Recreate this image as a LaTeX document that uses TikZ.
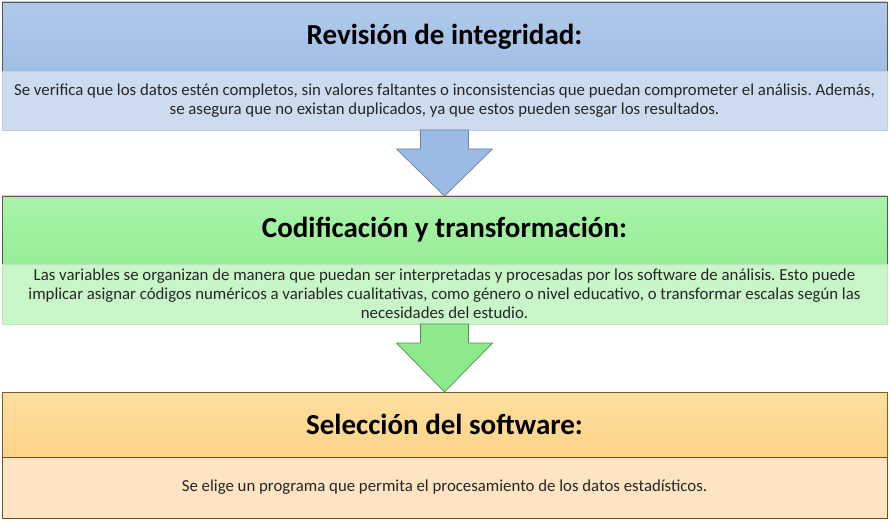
\documentclass[tikz,border=0pt]{standalone}
\usepackage{fontspec}
\setmainfont{Carlito}
\frenchspacing
\usetikzlibrary{positioning, calc}

\definecolor{azulTop}{RGB}{176,201,235}
\definecolor{azulBot}{RGB}{160,191,230}
\definecolor{azulBanda}{RGB}{205,219,238}
\definecolor{azulFlecha}{RGB}{155,186,228}
\definecolor{verdeTop}{RGB}{168,243,168}
\definecolor{verdeBot}{RGB}{152,237,152}
\definecolor{verdeBanda}{RGB}{200,246,200}
\definecolor{verdeFlecha}{RGB}{140,233,140}
\definecolor{naranjaTop}{RGB}{254,223,158}
\definecolor{naranjaBot}{RGB}{252,212,137}
\definecolor{naranjaBanda}{RGB}{254,228,194}

\begin{document}
\begin{tikzpicture}[
        x=1pt, y=1pt,
        titulo/.style={draw=#1, line width=0.9pt, minimum width=885pt, inner sep=0pt, outer sep=0pt,
            font=\fontsize{29}{33}\selectfont\bfseries},
        banda/.style={draw=#1, line width=0.5pt, minimum width=885pt, inner sep=0pt, outer sep=0pt,
            align=center, text=black!85, font=\fontsize{16.8}{19}\selectfont},
        flecha/.style={draw=#1, line width=0.7pt, line join=miter}
    ]
        \useasboundingbox (0,0) rectangle (890,-521);

        % Paso 1: revision de integridad
        \node[titulo=black!65, top color=azulTop, bottom color=azulBot, minimum height=69pt] (rev) at (444.5,-36.5) {Revisión de integridad:};
        \node[banda=azulBanda!85!gray, fill=azulBanda, minimum height=59pt, below=0pt of rev] (revTxt)
            {Se verifica que los datos estén completos, sin valores faltantes o inconsistencias que puedan comprometer el análisis. Además,\\
             se asegura que no existan duplicados, ya que estos pueden sesgar los resultados.};

        % Paso 2: codificacion
        \node[titulo=black!65, top color=verdeTop, bottom color=verdeBot, minimum height=68pt] (cod) at (444.5,-230) {Codificación y transformación:};
        \node[banda=verdeBanda!85!gray, fill=verdeBanda, minimum height=60pt, below=0pt of cod] (codTxt)
            {Las variables se organizan de manera que puedan ser interpretadas y procesadas por los software de análisis. Esto puede\\
             implicar asignar códigos numéricos a variables cualitativas, como género o nivel educativo, o transformar escalas según las\\
             necesidades del estudio.};

        % Paso 3: seleccion del software
        \node[titulo=brown!70!black, top color=naranjaTop, bottom color=naranjaBot, minimum height=65pt] (sel) at (444.5,-424.5) {Selección del software:};
        \node[banda=brown!60!black, fill=naranjaBanda, minimum height=61pt, below=0pt of sel] (selTxt)
            {Se elige un programa que permita el procesamiento de los datos estadísticos.};

        % Flechas de bloque entre pasos
        \draw[flecha=azulFlecha!70!black, fill=azulFlecha]
            ($(revTxt.south)+(-24,0)$) -- ($(revTxt.south)+(24,0)$) -- ($(cod.north)+(24,47)$)
            -- ($(cod.north)+(48,47)$) -- (cod.north) -- ($(cod.north)+(-48,47)$)
            -- ($(cod.north)+(-24,47)$) -- cycle;
        \draw[flecha=verdeFlecha!60!black, fill=verdeFlecha]
            ($(codTxt.south)+(-24,0)$) -- ($(codTxt.south)+(24,0)$) -- ($(sel.north)+(24,49)$)
            -- ($(sel.north)+(48,49)$) -- (sel.north) -- ($(sel.north)+(-48,49)$)
            -- ($(sel.north)+(-24,49)$) -- cycle;
    \end{tikzpicture}
\end{document}
